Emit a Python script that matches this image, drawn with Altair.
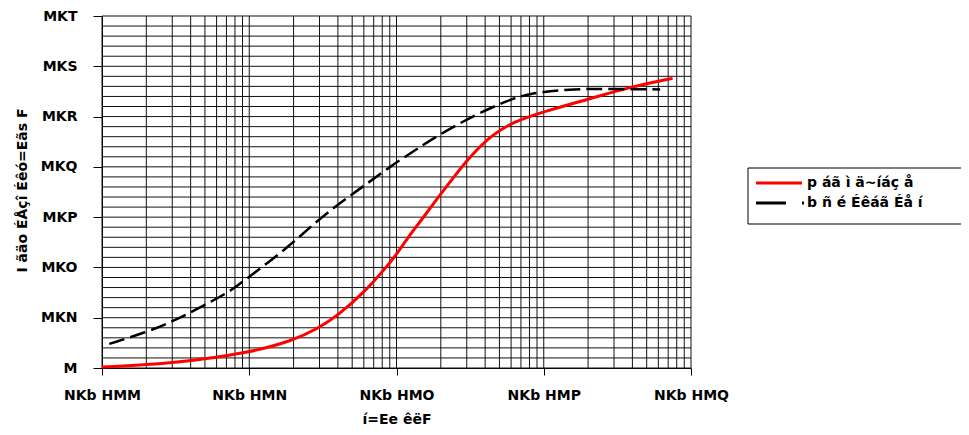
import altair as alt
import pandas as pd

# ---- data ----
series_names = ["p áã ì ä~íáç å", "b ñ é Éêáã Éå í"]

sim_t = [1, 3.1, 10, 20, 29, 40, 62, 85, 100, 117, 151, 195, 251, 324, 447, 617, 1000, 2090, 3890, 7500]
sim_v = [0.002, 0.009, 0.03, 0.055, 0.078, 0.104, 0.154, 0.2, 0.226, 0.256, 0.298, 0.342, 0.384, 0.424,
         0.464, 0.489, 0.51, 0.536, 0.559, 0.576]

exp_t = [1.12, 2.0, 3.1, 4.9, 7.6, 9.1, 13.5, 20, 29, 43, 62, 91, 135, 195, 324, 575, 794, 1480, 2820, 6170]
exp_v = [0.048, 0.071, 0.094, 0.124, 0.154, 0.173, 0.21, 0.25, 0.293, 0.332, 0.365, 0.401, 0.434, 0.464,
         0.5, 0.533, 0.546, 0.555, 0.555, 0.554]

x_tick_values = [1, 10, 100, 1000, 10000]
x_tick_labels = ["NKb HMM", "NKb HMN", "NKb HMO", "NKb HMP", "NKb HMQ"]
y_tick_values = [0, 0.1, 0.2, 0.3, 0.4, 0.5, 0.6, 0.7]
y_tick_labels = ["M", "MKN", "MKO", "MKP", "MKQ", "MKR", "MKS", "MKT"]
x_title = "í=Ee êëF"
y_title = "I ãäo ÉÅçî Éêó=Eãs F"

x_grid = [m * d for d in [1, 10, 100, 1000] for m in range(1, 10)] + [10000]
y_grid = [round(i * 0.02, 2) for i in range(36)]

FONT = "DejaVu Sans"
FS = 14

xs = alt.Scale(type="log", domain=[1, 10000], nice=False)
ys = alt.Scale(domain=[0, 0.7], nice=False, zero=False)

x_label_expr = "[" + ",".join("'%s'" % s for s in x_tick_labels) + "][round(log(datum.value)/LN10)]"
y_label_expr = "[" + ",".join("'%s'" % s for s in y_tick_labels) + "][round(datum.value*10)]"

x_axis = alt.Axis(
    values=x_tick_values, labelExpr=x_label_expr, grid=False, title=x_title,
    tickSize=7, labelPadding=13, labelBaseline="top", labelFlush=False, labelOverlap=False,
    titleY=51, titleBaseline="middle",
)
y_axis = alt.Axis(
    values=y_tick_values, labelExpr=y_label_expr, grid=False, title=y_title,
    tickSize=9, labelPadding=16, labelFlush=False, labelOverlap=False,
    titleX=-80, titleY=174, titleAngle=270, titleAlign="center", titleBaseline="middle",
)

vgrid = alt.Chart(pd.DataFrame({"g": x_grid})).mark_rule(color="#111111", strokeWidth=1).encode(
    x=alt.X("g:Q", scale=xs, axis=x_axis)
)
hgrid = alt.Chart(pd.DataFrame({"g": y_grid})).mark_rule(color="#111111", strokeWidth=1).encode(
    y=alt.Y("g:Q", scale=ys, axis=y_axis)
)

sim_df = pd.DataFrame({"t": sim_t, "v": sim_v})
exp_df = pd.DataFrame({"t": exp_t, "v": exp_v})

sim = alt.Chart(sim_df).mark_line(color="#ff0000", strokeWidth=3, interpolate="basis").encode(
    x=alt.X("t:Q", scale=xs, axis=x_axis),
    y=alt.Y("v:Q", scale=ys, axis=y_axis),
)
exp = alt.Chart(exp_df).mark_line(color="#000000", strokeWidth=2.5, strokeDash=[16, 6],
                                  interpolate="basis").encode(
    x=alt.X("t:Q", scale=xs, axis=x_axis),
    y=alt.Y("v:Q", scale=ys, axis=y_axis),
)

# ---- legend box ----
leg_box = alt.Chart(pd.DataFrame({"s": [series_names[0]]})).mark_rect(
    fill="white", stroke="black", strokeWidth=1).encode(
    x=alt.value(646), x2=alt.value(900), y=alt.value(152), y2=alt.value(208)
)
leg_r1 = alt.Chart(pd.DataFrame({"s": [series_names[0]]})).mark_rule(color="#ff0000", strokeWidth=3).encode(
    x=alt.value(654), x2=alt.value(700), y=alt.value(167)
)
leg_r2 = alt.Chart(pd.DataFrame({"s": [series_names[1]]})).mark_rule(
    color="#000000", strokeWidth=3, strokeDash=[30, 16]).encode(
    x=alt.value(654), x2=alt.value(702), y=alt.value(187)
)
leg_t1 = alt.Chart(pd.DataFrame({"s": [series_names[0]]})).mark_text(
    align="left", baseline="middle", font=FONT, fontSize=FS, fontWeight="bold", color="black").encode(
    x=alt.value(705), y=alt.value(167), text="s:N"
)
leg_t2 = alt.Chart(pd.DataFrame({"s": [series_names[1]]})).mark_text(
    align="left", baseline="middle", font=FONT, fontSize=FS, fontWeight="bold", color="black").encode(
    x=alt.value(705), y=alt.value(187), text="s:N"
)

chart = alt.layer(vgrid, hgrid, sim, exp, leg_box, leg_r1, leg_r2, leg_t1, leg_t2).properties(
    width=589, height=352,
    autosize=alt.AutoSizeParams(type="none"),
    padding={"left": 94, "top": 8, "right": 270, "bottom": 59},
).configure_view(stroke=None).configure_axis(
    domainColor="black", domainWidth=1, tickColor="black", tickWidth=1,
    labelFont=FONT, labelFontSize=FS, labelFontWeight="bold", labelColor="black",
    titleFont=FONT, titleFontSize=FS, titleFontWeight="bold", titleColor="black",
)

chart.save("out.html", embed_options={"renderer": "svg", "actions": False})
